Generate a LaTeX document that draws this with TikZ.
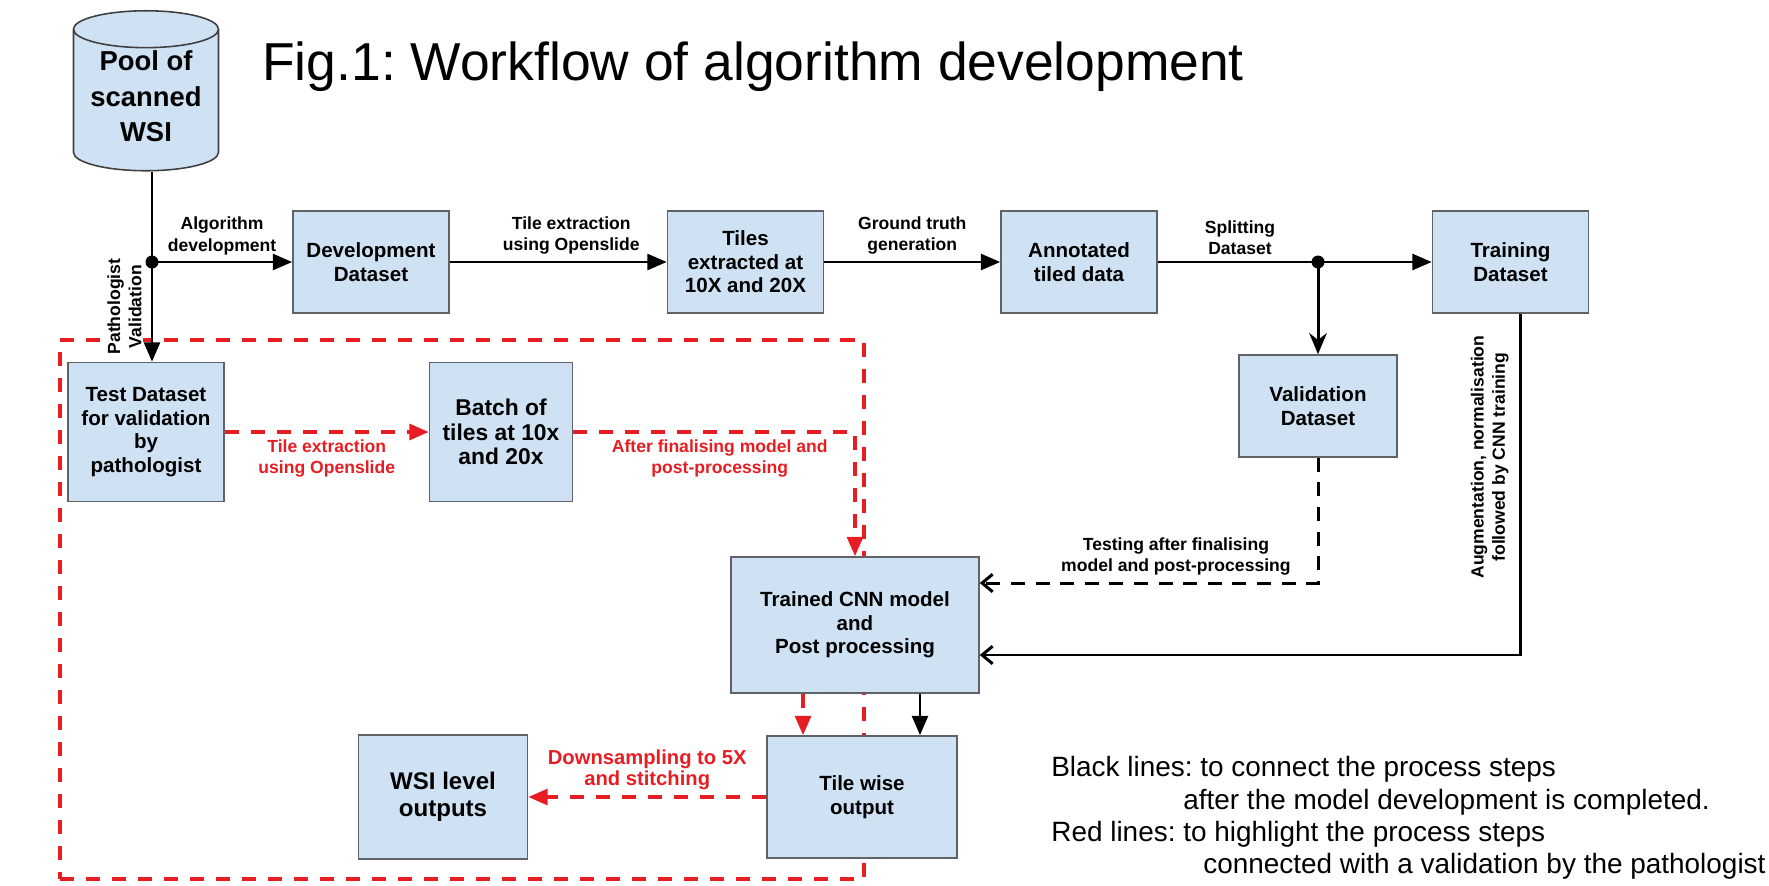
\documentclass[tikz,border=0pt]{standalone}
\usepackage{fontspec}
\setmainfont{Liberation Sans}
\usetikzlibrary{shapes.geometric, arrows.meta, positioning, backgrounds}

\definecolor{boxfill}{RGB}{207,226,243}
\definecolor{boxline}{RGB}{95,99,104}
\definecolor{valred}{RGB}{230,30,35}

\begin{document}
\frenchspacing
\begin{tikzpicture}[
    x=0.02cm, y=-0.02cm,
    % --- Global Styles ---
    base/.style={draw=boxline, line width=0.9pt, fill=boxfill, align=center, font=\bfseries\fontsize{11.7}{13.4}\selectfont},
    box/.style={base, rectangle, minimum width=3.12cm, minimum height=2.04cm},
    pool/.style={base, cylinder, shape border rotate=90, aspect=0.3, minimum height=3.2cm, minimum width=2.9cm, draw=black!75, text depth=9pt, inner ysep=0pt, font=\bfseries\fontsize{15.6}{20}\selectfont},
    lbl/.style={font=\bfseries\fontsize{10}{12}\selectfont, align=center},
    red lbl/.style={lbl, text=valred},
    note/.style={anchor=west, inner sep=0pt, font=\fontsize{15.9}{18}\selectfont},
    valframe/.style={draw=valred, line width=2pt, dash pattern=on 8pt off 6.8pt},
    arrow/.style={-{Triangle[length=11pt, width=9pt]}, line width=1.7pt},
    stealth arrow/.style={-{Stealth[length=12pt, width=10pt]}, line width=1.7pt},
    open arrow/.style={-{Straight Barb[length=6pt, width=10pt]}, line width=1.7pt},
    dashed arrow/.style={open arrow, dash pattern=on 8pt off 6pt},
    red arrow/.style={-{Triangle[length=11pt, width=9pt]}, line width=2pt, valred, dash pattern=on 8pt off 6.8pt}
]
    \useasboundingbox (0,0) rectangle (1769,886);

    % --- Nodes ---
    \node[pool] (pool) at (146,104) {Pool of\\scanned\\WSI};
    \node[anchor=base west, inner sep=0pt, font=\fontsize{30.4}{36}\selectfont] (title) at (262,80) {Fig.1: Workflow of algorithm development};

    \node[box] (dev) at (371,262) {Development\\Dataset};
    \node[box, right=4.34cm of dev] (tiles) {Tiles\\extracted at\\10X and 20X};
    \node[box, right=3.52cm of tiles] (annot) {Annotated\\tiled data};
    \node[box, right=5.48cm of annot] (train) {Training\\Dataset};
    \node[box, minimum width=3.16cm] (valid) at (1318,406) {Validation\\Dataset};

    \node[box, minimum height=2.78cm] (test) at (146,432) {Test Dataset\\for validation\\by\\pathologist};
    \node[box, right=4.08cm of test, minimum width=2.86cm, minimum height=2.78cm, font=\bfseries\fontsize{13}{13.8}\selectfont] (batch) {Batch of\\tiles at 10x\\and 20x};
    \node[box, minimum width=4.96cm, minimum height=2.72cm] (cnn) at (855,625) {Trained CNN model\\and\\Post processing};
    \node[box, minimum width=3.8cm, minimum height=2.44cm] (tile) at (862,797) {Tile wise\\output};
    \node[box, left=4.76cm of tile, minimum width=3.38cm, minimum height=2.48cm, font=\bfseries\fontsize{13.7}{15.5}\selectfont] (wsi) {WSI level\\outputs};

    % --- Validation frame ---
    \begin{scope}[on background layer]
        \node[valframe, minimum width=16.08cm, minimum height=10.78cm] (valzone) at (462,609.5) {};
    \end{scope}

    % --- Development flow ---
    \coordinate (drop) at ([xshift=0.12cm]pool.south);
    \coordinate (fork1) at (drop |- dev.west);
    \draw[arrow] (drop) -- node[lbl, pos=0.71, rotate=90, anchor=south, inner sep=1pt, outer sep=5pt, fill=white] {Pathologist\\Validation} (drop |- test.north);
    \fill (fork1) circle[radius=0.13cm];
    \draw[arrow] (fork1) -- node[lbl, above] {Algorithm\\development} (dev.west);
    \draw[arrow] (dev) -- node[lbl, above, pos=0.56] {Tile extraction\\using Openslide} (tiles);
    \draw[arrow] (tiles) -- node[lbl, above] {Ground truth\\generation} (annot);
    \draw[arrow] (annot) -- node[lbl, above, pos=0.3] {Splitting\\Dataset} (train);

    \coordinate (fork2) at (valid.north |- annot.east);
    \fill (fork2) circle[radius=0.13cm];
    \draw[stealth arrow] (fork2) -- (valid.north);

    \draw[dashed arrow] (valid.south) |- node[lbl, above, pos=0.71] {Testing after finalising\\model and post-processing} ([yshift=0.84cm]cnn.east);
    \draw[open arrow] ([xshift=0.2cm]train.south) |- node[lbl, pos=0.21, rotate=90, anchor=south, inner sep=6pt] {Augmentation, normalisation\\followed by CNN training} ([yshift=-0.6cm]cnn.east);
    \draw[arrow] ([xshift=1.3cm]cnn.south) -- ([xshift=1.3cm]cnn.south |- tile.north);

    % --- Validation flow (red) ---
    \draw[red arrow] (test) -- node[red lbl, below] {Tile extraction\\using Openslide} (batch);
    \draw[red arrow] (batch.east) -| node[red lbl, below, pos=0.26] {After finalising model and\\post-processing} (cnn.north);
    \draw[red arrow] ([xshift=-1.04cm]cnn.south) -- ([xshift=-1.04cm]cnn.south |- tile.north);
    \draw[red arrow] (tile) -- node[red lbl, above, font=\bfseries\fontsize{11.5}{12}\selectfont] {Downsampling to 5X\\and stitching} (wsi);

    % --- Legend ---
    \node[note] (note1) at (1051,769) {Black lines: to connect the process steps};
    \node[note] (note2) at (1183,802) {after the model development is completed.};
    \node[note] (note3) at (1051,834) {Red lines: to highlight the process steps};
    \node[note] (note4) at (1203,866) {connected with a validation by the pathologist};

\end{tikzpicture}
\end{document}
